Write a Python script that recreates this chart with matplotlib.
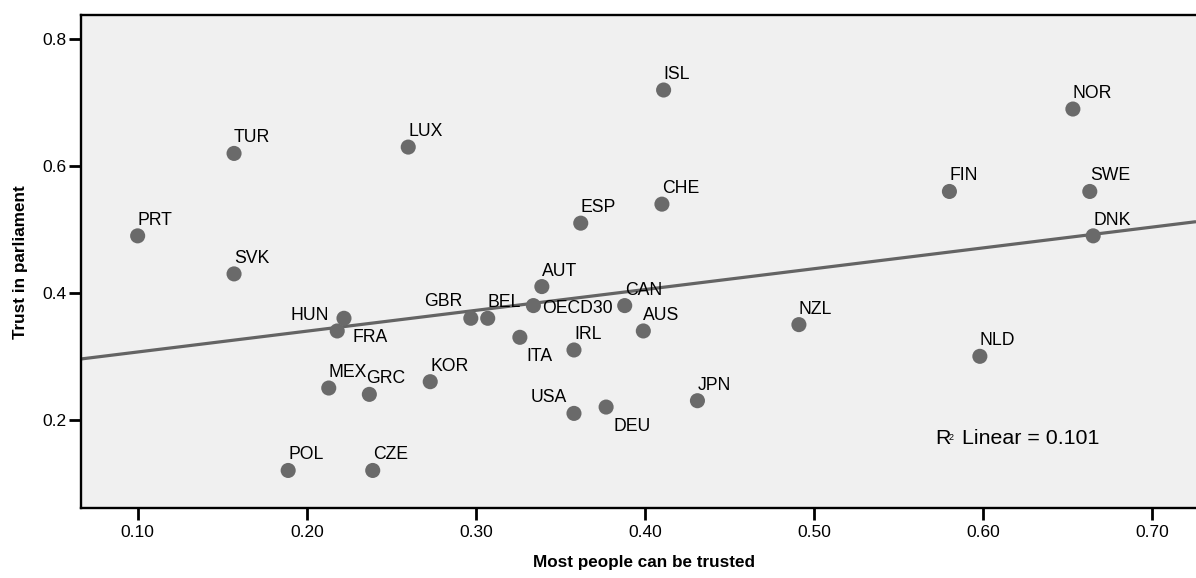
import numpy as np
import matplotlib
matplotlib.use("Agg")
import matplotlib.pyplot as plt

plt.rcParams["font.family"] = ["Liberation Sans", "DejaVu Sans"]

countries = ["PRT", "TUR", "SVK", "LUX", "HUN", "FRA", "MEX", "GRC", "POL", "CZE",
             "KOR", "GBR", "BEL", "ITA", "OECD30", "AUT", "USA", "IRL", "ESP", "DEU",
             "CAN", "AUS", "CHE", "ISL", "JPN", "NZL", "FIN", "NLD", "NOR", "SWE", "DNK"]
trust_people = [0.100, 0.157, 0.157, 0.260, 0.222, 0.218, 0.213, 0.237, 0.189, 0.239,
                0.273, 0.297, 0.307, 0.326, 0.334, 0.339, 0.358, 0.358, 0.362, 0.377,
                0.388, 0.399, 0.410, 0.411, 0.431, 0.491, 0.580, 0.598, 0.653, 0.663, 0.665]
trust_parliament = [0.49, 0.62, 0.43, 0.63, 0.36, 0.34, 0.25, 0.24, 0.12, 0.12,
                    0.26, 0.36, 0.36, 0.33, 0.38, 0.41, 0.21, 0.31, 0.51, 0.22,
                    0.38, 0.34, 0.54, 0.72, 0.23, 0.35, 0.56, 0.30, 0.69, 0.56, 0.49]

x_ticks = [0.10, 0.20, 0.30, 0.40, 0.50, 0.60, 0.70]
y_ticks = [0.2, 0.4, 0.6, 0.8]
r2_text = "0.101"

# label placement: (dx px, dy px, horizontal alignment); default sits just above-right of the dot
label_offsets = {
    "HUN": (-15, -2, "right"),
    "FRA": (15, -11, "left"),
    "ITA": (7, -24, "left"),
    "DEU": (7, -24, "left"),
    "OECD30": (9, -7, "left"),
    "USA": (-7, 11, "right"),
    "GBR": (-8, 12, "right"),
    "GRC": (-3, 11, "left"),
}

W, H = 1196, 578
fig = plt.figure(figsize=(W / 100, H / 100), dpi=100)
left_px, top_px, bottom_px = 81, 15, 508
ax = fig.add_axes([left_px / W, 1 - bottom_px / H, 1 - left_px / W, (bottom_px - top_px) / H])
ax.set_facecolor("#f0f0f0")
ax.set_xlim(0.0665, 0.7258)
ax.set_ylim(0.0608, 0.8383)

for side in ["left", "bottom", "top"]:
    ax.spines[side].set_linewidth(1.7)
    ax.spines[side].set_color("black")
ax.spines["right"].set_visible(False)

ax.set_xticks(x_ticks)
ax.set_xticklabels([f"{v:.2f}" for v in x_ticks])
ax.set_yticks(y_ticks)
ax.set_yticklabels([f"{v:.1f}" for v in y_ticks])
ax.tick_params(axis="both", direction="out", length=8.5, width=2.0, labelsize=12.5,
               colors="black")
ax.tick_params(axis="x", pad=4)
ax.tick_params(axis="y", pad=2)

# least-squares fit line across the full x range
slope, intercept = np.polyfit(trust_people, trust_parliament, 1)
xs = np.array(ax.get_xlim())
ax.plot(xs, intercept + slope * xs, color="#646464", lw=2.3, zorder=2, solid_capstyle="butt")

ax.scatter(trust_people, trust_parliament, s=118, color="#6a6a6a", edgecolors="none", zorder=3)

for name, xv, yv in zip(countries, trust_people, trust_parliament):
    dx, dy, ha = label_offsets.get(name, (0, 11, "left"))
    ax.annotate(name, (xv, yv), xytext=(dx, dy), textcoords="offset pixels",
                ha=ha, va="baseline", fontsize=12.7, color="black", zorder=4)

# R-squared annotation with a small mid-height "2"
ax.annotate("R", (0, 0), xycoords="figure pixels", xytext=(935, H - 444), textcoords="figure pixels",
            ha="left", va="baseline", fontsize=15.4)
ax.annotate("2", (0, 0), xycoords="figure pixels", xytext=(949, H - 440), textcoords="figure pixels",
            ha="left", va="baseline", fontsize=6.5)
ax.annotate(f"Linear = {r2_text}", (0, 0), xycoords="figure pixels", xytext=(962, H - 444),
            textcoords="figure pixels", ha="left", va="baseline", fontsize=15.4)

fig.text(644 / W, 1 - 567 / H, "Most people can be trusted", ha="center", va="baseline",
         fontsize=12.3, fontweight="bold")
fig.text(21 / W, 1 - 262 / H, "Trust in parliament", ha="center", va="center",
         rotation=90, fontsize=12.3, fontweight="bold")

fig.savefig("out.png", dpi=100, facecolor="white")
